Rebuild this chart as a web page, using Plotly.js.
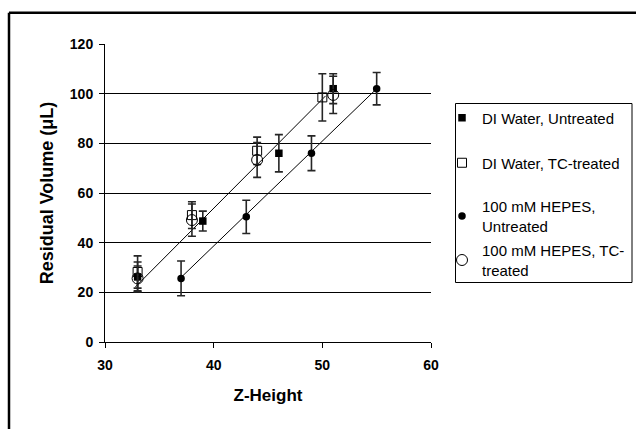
<!DOCTYPE html>
<html>
<head>
<meta charset="utf-8">
<script src="https://cdn.plot.ly/plotly-3.0.1.min.js"></script>
<style>
  html, body { margin: 0; padding: 0; background: #fff; }
  #chart { width: 636px; height: 429px; }
</style>
</head>
<body>
<div id="chart"></div>
<script>
// Series names
const seriesNames = [
  "DI Water, Untreated",
  "DI Water, TC-treated",
  "100 mM HEPES,<br>Untreated",
  "100 mM HEPES, TC-<br>treated"
];

// DI Water, Untreated
const diUntreatedX = [33, 39, 46, 51];
const diUntreatedY = [26.2, 48.7, 76, 102];
const diUntreatedErr = [6, 4, 7.5, 6];

// DI Water, TC-treated
const diTcX = [33, 38, 44, 50];
const diTcY = [28.2, 51.1, 77, 98.5];
const diTcErr = [6.5, 5.4, 5.5, 9.5];

// 100 mM HEPES, Untreated
const hepesUntreatedX = [37, 43, 49, 55];
const hepesUntreatedY = [25.6, 50.4, 76, 102];
const hepesUntreatedErr = [7, 6.7, 7, 6.5];

// 100 mM HEPES, TC-treated
const hepesTcX = [33, 38, 44, 51];
const hepesTcY = [25.6, 49.1, 73.3, 99.5];
const hepesTcErr = [5, 6.5, 7, 7.5];

// Linear trendlines (endpoints)
const trendAX = [32.8, 50.3];
const trendAY = [22.2, 99.1];
const trendBX = [37, 55];
const trendBY = [26, 102];

// Axis ticks
const xTicks = [30, 40, 50, 60];
const yTicks = [0, 20, 40, 60, 80, 100, 120];

const FONT = "Arial, 'Liberation Sans', sans-serif";
const errStyle = (arr) => ({
  type: "data", array: arr, visible: true,
  color: "#262626", thickness: 1.6, width: 4
});

const traces = [
  { x: trendAX, y: trendAY, mode: "lines", showlegend: false, hoverinfo: "skip",
    line: { color: "#000", width: 1 } },
  { x: trendBX, y: trendBY, mode: "lines", showlegend: false, hoverinfo: "skip",
    line: { color: "#000", width: 1 } },
  { x: diUntreatedX, y: diUntreatedY, name: seriesNames[0], mode: "markers",
    legend: "legend",
    error_y: errStyle(diUntreatedErr),
    marker: { symbol: "square", size: 7.5, color: "#000" } },
  { x: diTcX, y: diTcY, name: seriesNames[1], mode: "markers",
    legend: "legend2",
    error_y: errStyle(diTcErr),
    marker: { symbol: "square-open", size: 9, color: "#000", line: { width: 1 } } },
  { x: hepesUntreatedX, y: hepesUntreatedY, name: seriesNames[2], mode: "markers",
    legend: "legend3",
    error_y: errStyle(hepesUntreatedErr),
    marker: { symbol: "circle", size: 7.5, color: "#000" } },
  { x: hepesTcX, y: hepesTcY, name: seriesNames[3], mode: "markers",
    legend: "legend4",
    error_y: errStyle(hepesTcErr),
    marker: { symbol: "circle-open", size: 11, color: "#000", line: { width: 1 } } }
];

const L = 105, R = 205, T = 44, B = 87;
const PW = 636 - L - R, PH = 429 - T - B;
const px = (v) => (v - L) / PW;          // pixel x -> paper x
const py = (v) => (429 - B - v) / PH;    // pixel y -> paper y

const legFont = { family: FONT, size: 15, color: "#000" };
const legendAt = (cy) => ({
  x: px(442), y: py(cy), xanchor: "left", yanchor: "middle",
  bgcolor: "rgba(0,0,0,0)", borderwidth: 0,
  font: legFont, itemwidth: 30
});

const layout = {
  width: 636, height: 429,
  margin: { l: L, r: R, t: T, b: B, pad: 0, autoexpand: false },
  paper_bgcolor: "#fff", plot_bgcolor: "#fff",
  font: { family: FONT, color: "#000", size: 14 },
  showlegend: true,
  xaxis: {
    range: [30, 60], tickvals: xTicks, ticktext: xTicks.map(String),
    showgrid: false, zeroline: false,
    showline: true, linecolor: "#000", linewidth: 1,
    ticks: "outside", ticklen: 5, tickcolor: "#000",
    tickfont: { family: FONT, size: 14, color: "#000", weight: "bold" },
    ticklabelstandoff: 5,
    title: { text: "Z-Height", font: { family: FONT, size: 17, color: "#000", weight: "bold" }, standoff: 17 }
  },
  yaxis: {
    range: [0, 120], tickvals: yTicks, ticktext: yTicks.map(String),
    showgrid: true, gridcolor: "#000", gridwidth: 1,
    zeroline: false,
    showline: true, linecolor: "#000", linewidth: 1,
    ticks: "outside", ticklen: 5, tickcolor: "#000",
    tickfont: { family: FONT, size: 14, color: "#000", weight: "bold" },
    ticklabelstandoff: 3,
    title: { text: "Residual Volume (\u03BCL)", font: { family: FONT, size: 18, color: "#000", weight: "bold" }, standoff: 11 }
  },
  legend: legendAt(118),
  legend2: legendAt(163),
  legend3: legendAt(216),
  legend4: legendAt(260),
  shapes: [
    { type: "rect", xref: "paper", yref: "paper",
      x0: px(455.5), x1: px(632), y0: py(282.5), y1: py(103.5),
      line: { color: "#000", width: 1 }, fillcolor: "rgba(0,0,0,0)" },
    { type: "line", xref: "paper", yref: "paper",
      x0: px(9), x1: px(9), y0: py(440), y1: py(12.8),
      line: { color: "#000", width: 2.5 } },
    { type: "line", xref: "paper", yref: "paper",
      x0: px(9), x1: px(650), y0: py(12.8), y1: py(12.8),
      line: { color: "#000", width: 2.5 } }
  ]
};

Plotly.newPlot("chart", traces, layout, { staticPlot: true, displayModeBar: false });
</script>
</body>
</html>
